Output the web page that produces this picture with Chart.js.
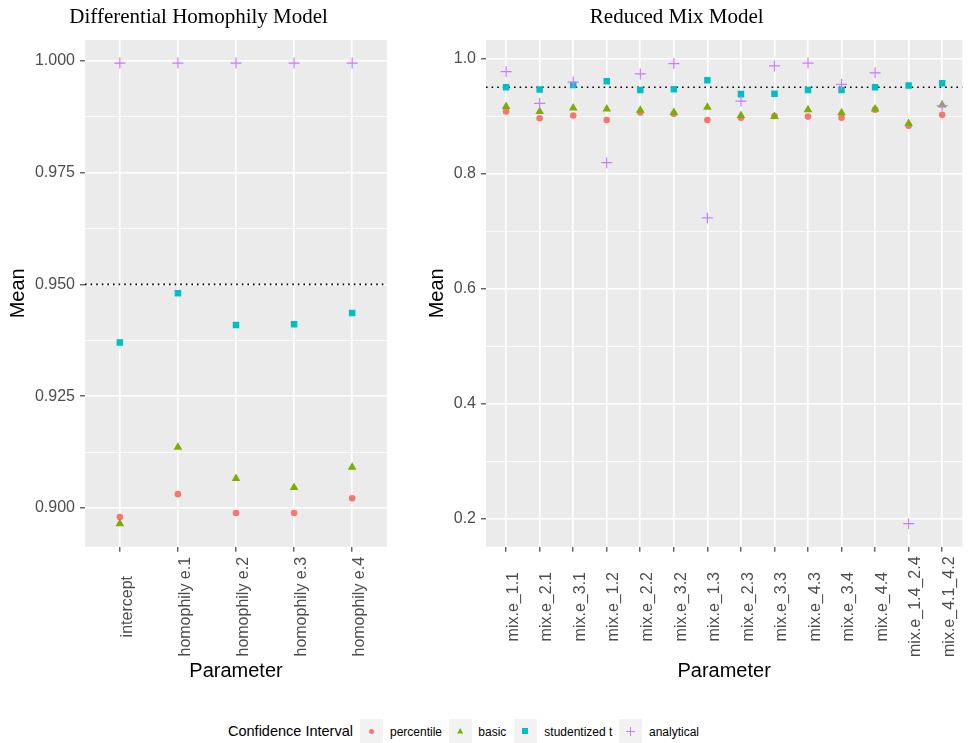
<!DOCTYPE html>
<html>
<head>
<meta charset="utf-8">
<script src="https://cdn.jsdelivr.net/npm/chart.js@4/dist/chart.umd.min.js"></script>
<style>
  html, body { margin:0; padding:0; background:#fff; width:969px; height:743px; overflow:hidden;
    font-family:"Liberation Sans", Arial, sans-serif; }
  canvas { position:absolute; top:0; }
  #leftChart { left:0; }
  #rightChart { left:384px; }
  .lg { position:absolute; white-space:nowrap; color:#000; }
  .lgTitle { font-size:14.5px; line-height:18px; top:722px; }
  .lgText { font-size:12px; line-height:16px; top:724px; }
  .key { position:absolute; top:719px; width:23px; height:24px; background:#F2F2F2; }
  .mk { position:absolute; }
</style>
</head>
<body>
<canvas id="leftChart" width="397" height="700"></canvas>
<canvas id="rightChart" width="585" height="700"></canvas>
<div id="legend"></div>
<script>
// ---------------- data ----------------
const seriesNames = ['percentile', 'basic', 'studentized t', 'analytical'];
const seriesColors = ['#F8766D', '#7CAE00', '#00BFC4', '#C77CFF'];
const nominalCoverage = 0.95;

const leftTitle = 'Differential Homophily Model';
const leftCategories = ['intercept', 'homophily e.1', 'homophily e.2', 'homophily e.3', 'homophily e.4'];
const leftPercentile  = [0.8980, 0.9031, 0.8989, 0.8989, 0.9022];
const leftBasic       = [0.8965, 0.9136, 0.9066, 0.9046, 0.9091];
const leftStudentized = [0.9370, 0.9480, 0.9409, 0.9411, 0.9436];
const leftAnalytical  = [0.9995, 0.9995, 0.9995, 0.9995, 0.9995];
const leftYTicks      = [0.900, 0.925, 0.950, 0.975, 1.000];
const leftYTickLabels = ['0.900', '0.925', '0.950', '0.975', '1.000'];

const rightTitle = 'Reduced Mix Model';
const rightCategories = ['mix.e_1.1', 'mix.e_2.1', 'mix.e_3.1', 'mix.e_1.2', 'mix.e_2.2', 'mix.e_3.2', 'mix.e_1.3',
  'mix.e_2.3', 'mix.e_3.3', 'mix.e_4.3', 'mix.e_3.4', 'mix.e_4.4', 'mix.e_1.4_2.4', 'mix.e_4.1_4.2'];
const rightPercentile  = [0.908, 0.896, 0.901, 0.893, 0.906, 0.904, 0.893, 0.897, 0.900, 0.899, 0.897, 0.911, 0.883, 0.902];
const rightBasic       = [0.9165, 0.908, 0.914, 0.912, 0.910, 0.906, 0.915, 0.901, 0.899, 0.911, 0.9055, 0.912, 0.887, 0.919];
const rightStudentized = [0.950, 0.946, 0.954, 0.9605, 0.945, 0.9466, 0.9623, 0.938, 0.9385, 0.945, 0.945, 0.950, 0.953, 0.957];
const rightAnalytical  = [0.977, 0.922, 0.959, 0.819, 0.973, 0.991, 0.723, 0.926, 0.987, 0.992, 0.955, 0.975, 0.192, 0.918];
const rightYTicks      = [0.2, 0.4, 0.6, 0.8, 1.0];
const rightYTickLabels = ['0.2', '0.4', '0.6', '0.8', '1.0'];

// ---------------- helpers ----------------
const SANS = '"Liberation Sans", Arial, sans-serif';
const SERIF = '"Liberation Serif", "Times New Roman", serif';

function yRange(arrays) {
  const all = arrays.flat().concat([nominalCoverage]);
  const lo = Math.min(...all), hi = Math.max(...all);
  const pad = (hi - lo) * 0.05;
  return [lo - pad, hi + pad];
}

const panelBg = {
  id: 'panelBg',
  beforeDraw(chart) {
    const { ctx, chartArea: a } = chart;
    ctx.save();
    ctx.fillStyle = '#EBEBEB';
    ctx.fillRect(a.left, a.top, a.right - a.left, a.bottom - a.top);
    ctx.restore();
  }
};

const refLine = {
  id: 'refLine',
  beforeDatasetsDraw(chart) {
    const { ctx, chartArea: a } = chart;
    const y = chart.scales.y.getPixelForValue(nominalCoverage);
    ctx.save();
    ctx.beginPath();
    ctx.setLineDash([1.6, 4]);
    ctx.lineWidth = 1.6;
    ctx.strokeStyle = '#000000';
    ctx.moveTo(a.left, y);
    ctx.lineTo(a.right, y);
    ctx.stroke();
    ctx.restore();
  }
};

const panelTitle = {
  id: 'panelTitle',
  afterDraw(chart, args, opts) {
    const ctx = chart.ctx;
    ctx.save();
    ctx.font = '21px ' + SERIF;
    ctx.fillStyle = '#000000';
    ctx.textAlign = 'center';
    ctx.textBaseline = 'alphabetic';
    ctx.fillText(opts.text, opts.x, opts.y);
    ctx.restore();
  }
};

const catLabels = {
  id: 'catLabels',
  afterDraw(chart, args, opts) {
    const { ctx, chartArea: a } = chart;
    const xs = chart.scales.x;
    ctx.save();
    ctx.font = '16px ' + SANS;
    ctx.fillStyle = '#4D4D4D';
    ctx.textAlign = 'center';
    ctx.textBaseline = 'alphabetic';
    opts.labels.forEach((lab, i) => {
      const x = xs.getPixelForValue(i + 1);
      ctx.save();
      ctx.translate(x, a.bottom + 60);
      ctx.rotate(-Math.PI / 2);
      ctx.fillText(lab, 0, 11.7);
      ctx.restore();
    });
    ctx.restore();
  }
};

function buildChart(canvasId, p) {
  const n = p.categories.length;
  const [ymin, ymax] = yRange([p.percentile, p.basic, p.studentized, p.analytical]);
  const step = p.yTicks[1] - p.yTicks[0];
  const minor = [];
  for (let i = -1; i < p.yTicks.length; i++) {
    const v = (i < 0 ? p.yTicks[0] - step : p.yTicks[i]) + step / 2;
    if (v > ymin && v < ymax) minor.push(v);
  }
  const isMajor = v => p.yTicks.some(t => Math.abs(t - v) < 1e-9);

  const mk = (k, values, style, radius, bw, order) => ({
    label: seriesNames[k],
    data: values.map((v, i) => ({ x: i + 1, y: v })),
    showLine: false,
    pointStyle: style,
    pointRadius: radius,
    pointHoverRadius: radius,
    pointBackgroundColor: seriesColors[k],
    pointBorderColor: seriesColors[k],
    pointBorderWidth: bw,
    order
  });

  return new Chart(document.getElementById(canvasId), {
    type: 'scatter',
    data: {
      datasets: [
        mk(3, p.analytical, 'cross', 5.5, 1.2, 0),
        mk(2, p.studentized, 'rect', 4.6, 0, 1),
        mk(1, p.basic, 'triangle', 5.0, 0, 2),
        mk(0, p.percentile, 'circle', 3.3, 0, 3)
      ]
    },
    options: {
      responsive: false,
      animation: false,
      events: [],
      layout: { padding: { top: 40, right: p.padRight, bottom: 0, left: 0 } },
      plugins: {
        legend: { display: false },
        tooltip: { enabled: false },
        title: { display: false },
        panelTitle: { text: p.title, x: p.titleX, y: 23.3 },
        catLabels: { labels: p.categories }
      },
      scales: {
        x: {
          type: 'linear', min: 0.4, max: n + 0.6,
          afterBuildTicks: s => { s.ticks = p.categories.map((c, i) => ({ value: i + 1 })); },
          ticks: { display: false, autoSkip: false },
          grid: { color: '#FFFFFF', lineWidth: 1.6, drawTicks: true, tickLength: 5,
                  tickColor: '#333333', tickWidth: 1.1 },
          border: { display: false },
          title: { display: true, text: 'Parameter', color: '#000000',
                   font: { family: SANS, size: 20 }, padding: { top: 0, bottom: 17 } },
          afterFit: s => { s.height = 153.3; }
        },
        y: {
          type: 'linear', min: ymin, max: ymax,
          afterBuildTicks: s => {
            s.ticks = [...p.yTicks, ...minor].sort((a, b) => a - b).map(v => ({ value: v }));
          },
          ticks: {
            autoSkip: false,
            callback: v => {
              const k = p.yTicks.findIndex(t => Math.abs(t - v) < 1e-9);
              return k >= 0 ? p.yTickLabels[k] : '';
            },
            color: '#4D4D4D', font: { family: SANS, size: 16 }, padding: 5
          },
          grid: {
            color: '#FFFFFF',
            lineWidth: c => (c.tick && isMajor(c.tick.value)) ? 1.6 : 0.8,
            drawTicks: true, tickLength: 5,
            tickColor: c => (c.tick && isMajor(c.tick.value)) ? '#333333' : 'rgba(0,0,0,0)',
            tickWidth: 1.1
          },
          border: { display: false },
          title: { display: true, text: 'Mean', color: '#000000',
                   font: { family: SANS, size: 20 }, padding: { top: p.yTitlePad, bottom: 0 } },
          afterFit: s => { s.width = p.yWidth; }
        }
      }
    },
    plugins: [panelBg, refLine, panelTitle, catLabels]
  });
}

buildChart('leftChart', {
  title: leftTitle, titleX: 198.6, categories: leftCategories,
  percentile: leftPercentile, basic: leftBasic, studentized: leftStudentized, analytical: leftAnalytical,
  yTicks: leftYTicks, yTickLabels: leftYTickLabels,
  yWidth: 85, yTitlePad: 6, padRight: 10
});
buildChart('rightChart', {
  title: rightTitle, titleX: 292.7, categories: rightCategories,
  percentile: rightPercentile, basic: rightBasic, studentized: rightStudentized, analytical: rightAnalytical,
  yTicks: rightYTicks, yTickLabels: rightYTickLabels,
  yWidth: 102, yTitlePad: 41, padRight: 3
});

// ---------------- legend (HTML) ----------------
(function () {
  const lg = document.getElementById('legend');
  const add = (html) => { lg.insertAdjacentHTML('beforeend', html); };
  add('<div class="lg lgTitle" style="left:228px">Confidence Interval</div>');
  const keyX = [360, 448.7, 513.7, 618.7];
  const textX = [390, 478.3, 544.3, 649];
  seriesNames.forEach((name, k) => {
    const c = seriesColors[k];
    let mark = '';
    if (k === 0) mark = `<div class="mk" style="left:9px;top:9.5px;width:5px;height:5px;border-radius:50%;background:${c}"></div>`;
    if (k === 1) mark = `<div class="mk" style="left:8.5px;top:9px;width:6px;height:5.5px;background:${c};clip-path:polygon(50% 0,100% 100%,0 100%)"></div>`;
    if (k === 2) mark = `<div class="mk" style="left:8.7px;top:9.2px;width:5.7px;height:5.7px;background:${c}"></div>`;
    if (k === 3) mark = `<div class="mk" style="left:7px;top:11.5px;width:9px;height:1px;background:${c}"></div>` +
                        `<div class="mk" style="left:11px;top:7.5px;width:1px;height:9px;background:${c}"></div>`;
    add(`<div class="key" style="left:${keyX[k]}px">${mark}</div>`);
    add(`<div class="lg lgText" style="left:${textX[k]}px">${name}</div>`);
  });
})();
</script>
</body>
</html>
